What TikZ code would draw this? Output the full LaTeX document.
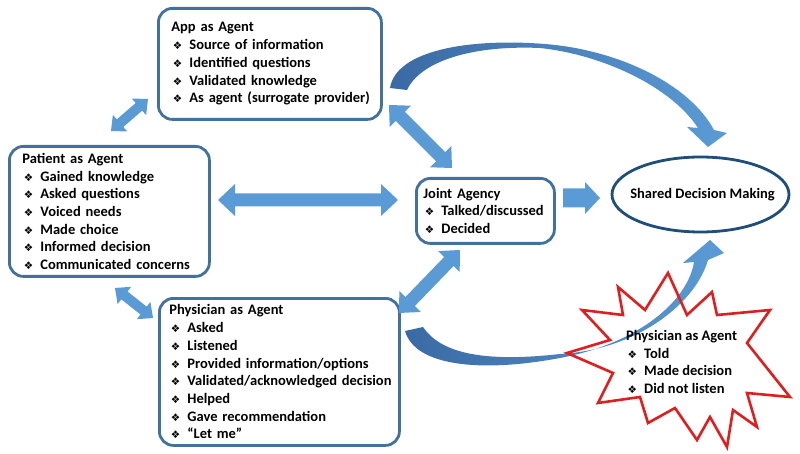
\documentclass[tikz,border=0pt]{standalone}
\usepackage{fontspec}
\setmainfont{Carlito}
\newfontfamily\dingfont{DejaVu Sans}
\usetikzlibrary{calc,shapes.geometric}

\definecolor{arrowblue}{HTML}{5B9BD5}
\definecolor{arrowdark}{HTML}{3A6AA3}
\definecolor{boxline}{HTML}{41719C}
\definecolor{ovalline}{HTML}{1F4E79}
\definecolor{burstred}{HTML}{DD1F1F}

% one bulleted line, kept on a single line
\newcommand\itm[1]{\mbox{\hspace{1.5pt}\makebox[16.5pt][l]{\dingfont\fontsize{10.5}{10.5}\selectfont ❖}#1}}
\newcommand\hdr[1]{\mbox{#1}}

% block double arrow between two named coordinates:
% #3 half shaft width, #4 half head width, #5 head length
\newcommand\dblarrow[5]{%
  \path ($(#1)!#5!(#2)$) coordinate (ha) ($(#2)!#5!(#1)$) coordinate (hb);
  \fill[arrowblue] (#1) -- ($(ha)!#4!90:(#2)$) -- ($(ha)!#3!90:(#2)$)
    -- ($(hb)!#3!-90:(#1)$) -- ($(hb)!#4!-90:(#1)$) -- (#2)
    -- ($(hb)!#4!90:(#1)$) -- ($(hb)!#3!90:(#1)$)
    -- ($(ha)!#3!-90:(#2)$) -- ($(ha)!#4!-90:(#2)$) -- cycle;}
% block single arrow from #1 to #2
\newcommand\sglarrow[5]{%
  \path ($(#2)!#5!(#1)$) coordinate (hb);
  \fill[arrowblue] ($(#1)!#3!90:(#2)$) -- ($(hb)!#3!-90:(#1)$)
    -- ($(hb)!#4!-90:(#1)$) -- (#2) -- ($(hb)!#4!90:(#1)$)
    -- ($(hb)!#3!90:(#1)$) -- ($(#1)!#3!-90:(#2)$) -- cycle;}

\begin{document}
\begin{tikzpicture}[x=1pt,y=-1pt,
  font=\fontsize{14.5}{17.7}\selectfont\bfseries,
  agentbox/.style={draw=boxline, line width=2.8pt, rounded corners=14pt,
    fill=white, anchor=north west, align=left, inner ysep=0pt},
  plain/.style={inner sep=0pt, align=left, anchor=north west}]

\fill[white] (0,0) rectangle (800,454);
\useasboundingbox (0,0) rectangle (800,454);

% curved arrow from the app to shared decision making
\shade[left color=arrowdark, right color=arrowblue]
  (390,88) .. controls (396,50) and (470,38) .. (545,44)
  .. controls (620,50) and (690,85) .. (714,130)
  -- (727,133) -- (708,147) -- (687,127) -- (698,128)
  .. controls (672,88) and (605,55) .. (540,48)
  .. controls (470,45) and (420,62) .. (407,90) -- cycle;

% agent boxes
\node[agentbox, text width=197pt, inner xsep=13pt, minimum height=111pt] (app) at (157,7)
  {\hdr{App as Agent}\\
   \itm{Source of information}\\
   \itm{Identified questions}\\
   \itm{Validated knowledge}\\
   \itm{As agent (surrogate provider)}};

\node[agentbox, text width=174pt, inner xsep=13pt, minimum height=130pt] (patient) at (8,145)
  {\hdr{Patient as Agent}\\
   \itm{Gained knowledge}\\
   \itm{Asked questions}\\
   \itm{Voiced needs}\\
   \itm{Made choice}\\
   \itm{Informed decision}\\
   \itm{Communicated concerns}};

\node[agentbox, text width=220pt, inner xsep=10pt, minimum height=147pt] (physician) at (158,297)
  {\hdr{Physician as Agent}\\
   \itm{Asked}\\
   \itm{Listened}\\
   \itm{Provided information/options}\\
   \itm{Validated/acknowledged decision}\\
   \itm{Helped}\\
   \itm{Gave recommendation}\\
   \itm{“Let me”}};

\node[agentbox, text width=124pt, inner xsep=7pt, minimum height=65pt] (joint) at (415,177)
  {\hdr{Joint Agency}\\
   \itm{Talked/discussed}\\
   \itm{Decided}};

% outcome oval, its caption set on top of it
\node[ellipse, draw=ovalline, line width=2.8pt, minimum width=177pt, minimum height=75pt,
  inner sep=0pt] (sdm) at (700.5,194.5) {};
\node (sdmtext) at ([xshift=2pt]sdm.center) {Shared Decision Making};

% arrow end points next to the boxes
\coordinate (apA) at (111,131);  \coordinate (apB) at (148,99);
\coordinate (ppA) at (115,288);  \coordinate (ppB) at (153,318);
\coordinate (pjA) at (218,200);  \coordinate (pjB) at (398,200);
\coordinate (ajA) at (389,105);  \coordinate (ajB) at (452,168);
\coordinate (jpA) at (460,250);  \coordinate (jpB) at (399,313);
\coordinate (jsA) at (563,198);  \coordinate (jsB) at (600,198);

\dblarrow{apA}{apB}{5pt}{11pt}{12pt}
\dblarrow{ppA}{ppB}{5pt}{11pt}{12pt}
\dblarrow{pjA}{pjB}{6.5pt}{16pt}{17pt}
\dblarrow{ajA}{ajB}{6.5pt}{15pt}{16pt}
\dblarrow{jpA}{jpB}{6.5pt}{15pt}{16pt}
\sglarrow{jsA}{jsB}{9.5pt}{16pt}{15pt}

% burst behind the second physician list
\def\burst{(668,273) -- (687,315) -- (712,292) -- (717,315) -- (770,310) -- (747,343)
  -- (790,397) -- (747,393) -- (757,427) -- (733,410) -- (727,447) -- (710,417)
  -- (697,440) -- (675,408) -- (648,423) -- (640,397) -- (598,403) -- (613,373)
  -- (567,353) -- (610,340) -- (582,310) -- (623,315) -- (618,287) -- (645,310) -- cycle}
\fill[white] \burst;

% curved arrow from the physician to shared decision making
\shade[left color=arrowdark, right color=arrowblue]
  (405,331) .. controls (415,366) and (480,373) .. (560,358)
  .. controls (640,343) and (688,300) .. (694,262)
  -- (683,263) -- (710,240) -- (724,253) -- (708,260)
  .. controls (695,305) and (635,350) .. (560,354)
  .. controls (480,363) and (440,352) .. (423,327) -- cycle;

\draw[burstred, line width=2.6pt, line join=miter] \burst;

\node[plain] (physician2) at (626,330)
  {\hdr{Physician as Agent}\\
   \itm{Told}\\
   \itm{Made decision}\\
   \itm{Did not listen}};
\end{tikzpicture}
\end{document}
